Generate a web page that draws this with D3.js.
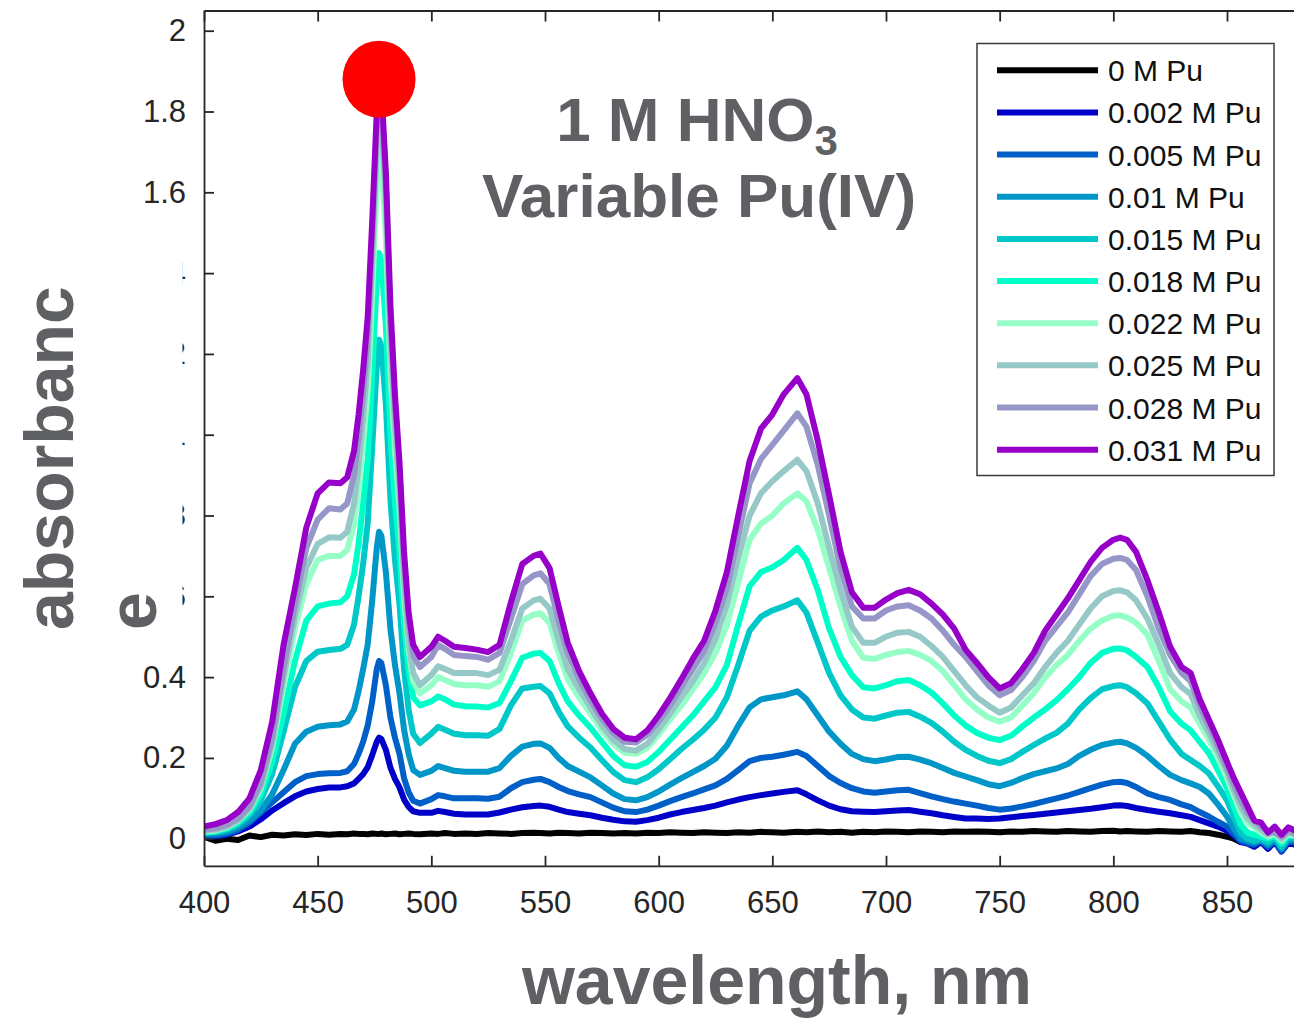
<!DOCTYPE html>
<html>
<head>
<meta charset="utf-8">
<script src="https://cdn.jsdelivr.net/npm/d3@7"></script>
<style>
  html, body { margin: 0; padding: 0; background: #fff; }
  svg { display: block; }
  text { font-family: "Liberation Sans", Arial, Helvetica, sans-serif; }
</style>
</head>
<body>
<svg id="chart" width="1294" height="1019"></svg>
<script>
// Wavelength grid (nm); finer sampling around the 476 nm Pu(IV) band
const wavelengths = [
  400,405,410,415,420,425,430,435,440,445,
  450,455,460,463,466,468,470,472,474,476,
  477,478,480,482,484,486,488,490,492,495,
  500,503,506,510,515,520,525,530,535,540,
  545,548,552,556,560,565,570,575,580,585,
  590,595,600,605,610,615,620,625,630,635,
  640,645,650,655,661,665,670,675,680,685,
  690,695,700,705,710,715,720,725,730,735,
  740,745,750,755,760,765,770,775,780,785,
  790,795,800,803,806,810,815,820,825,830,
  834,838,842,846,850,853,856,859,862,865,
  868,871,874,877,880
];

// Absorbance spectra, one array per Pu concentration
const pu000 = [
  .005,-.005,.000,-.003,.008,.004,.010,.008,.011,.009,
  .012,.010,.012,.011,.013,.012,.012,.011,.013,.012,
  .012,.013,.011,.012,.013,.011,.012,.013,.012,.011,
  .013,.012,.014,.012,.013,.012,.014,.013,.012,.014,
  .015,.014,.013,.015,.014,.013,.015,.014,.013,.014,
  .013,.015,.014,.016,.015,.014,.016,.015,.014,.016,
  .015,.017,.016,.015,.017,.016,.018,.016,.017,.015,
  .017,.016,.018,.017,.016,.018,.017,.016,.018,.017,
  .018,.017,.016,.018,.017,.019,.018,.017,.019,.018,
  .017,.019,.020,.018,.019,.018,.017,.019,.018,.017,
  .019,.016,.014,.010,.005,.000,-.008,-.005,-.012,-.006,
  -.018,-.006,-.025,-.008,-.012
];
const pu002 = [
  .005,.006,.010,.018,.030,.048,.070,.088,.105,.117,
  .123,.127,.127,.130,.137,.148,.160,.177,.207,.240,
  .250,.247,.220,.176,.148,.127,.097,.079,.068,.064,
  .064,.069,.066,.062,.060,.060,.060,.065,.072,.078,
  .081,.082,.079,.072,.066,.062,.058,.052,.047,.043,
  .042,.046,.052,.060,.066,.071,.076,.082,.090,.097,
  .103,.108,.112,.116,.120,.110,.095,.082,.073,.068,
  .067,.066,.068,.070,.071,.067,.063,.058,.054,.050,
  .050,.049,.050,.053,.056,.059,.062,.065,.068,.071,
  .074,.078,.082,.083,.081,.076,.071,.067,.063,.058,
  .054,.046,.038,.030,.020,.008,-.008,-.012,-.020,-.008,
  -.025,-.008,-.032,-.010,-.015
];
const pu005 = [
  .006,.008,.012,.022,.040,.065,.090,.115,.140,.155,
  .160,.162,.163,.167,.185,.210,.240,.280,.340,.420,
  .440,.435,.380,.300,.250,.210,.150,.115,.094,.087,
  .098,.108,.105,.100,.100,.100,.099,.104,.125,.140,
  .146,.148,.140,.128,.118,.110,.103,.090,.077,.068,
  .066,.072,.082,.093,.103,.112,.122,.132,.148,.170,
  .192,.200,.203,.208,.215,.205,.180,.155,.138,.125,
  .117,.114,.117,.120,.121,.113,.105,.098,.092,.087,
  .082,.076,.072,.075,.080,.086,.093,.100,.107,.116,
  .125,.134,.140,.141,.138,.128,.112,.103,.096,.085,
  .078,.066,.055,.042,.030,.012,-.005,-.010,-.015,-.005,
  -.020,-.005,-.030,-.005,-.010
];
const pu010 = [
  .012,.013,.017,.028,.045,.070,.110,.170,.235,.265,
  .277,.281,.283,.290,.320,.365,.420,.480,.590,.720,
  .760,.750,.660,.520,.430,.360,.270,.210,.170,.158,
  .168,.180,.175,.168,.166,.166,.166,.175,.205,.228,
  .235,.236,.225,.200,.180,.166,.152,.132,.112,.098,
  .095,.103,.117,.134,.150,.165,.180,.198,.230,.280,
  .325,.345,.350,.355,.365,.345,.305,.265,.235,.210,
  .197,.192,.196,.202,.203,.196,.187,.175,.163,.154,
  .145,.135,.130,.138,.150,.160,.167,.174,.185,.205,
  .220,.232,.238,.240,.236,.225,.205,.180,.158,.145,
  .137,.128,.112,.085,.055,.025,.000,-.005,-.010,-.003,
  -.015,.000,-.025,.000,-.005
];
const pu015 = [
  .014,.016,.022,.035,.058,.095,.160,.265,.375,.440,
  .463,.467,.470,.480,.530,.600,.680,.780,.970,1.170,
  1.235,1.220,1.075,.840,.690,.580,.420,.320,.260,.237,
  .260,.277,.270,.260,.256,.256,.255,.272,.330,.372,
  .376,.378,.360,.315,.278,.250,.226,.195,.165,.145,
  .140,.152,.172,.197,.222,.245,.270,.300,.350,.430,
  .515,.550,.565,.575,.590,.560,.485,.410,.355,.320,
  .300,.297,.305,.312,.314,.302,.287,.265,.240,.220,
  .205,.193,.187,.197,.215,.232,.248,.262,.285,.320,
  .348,.370,.378,.380,.375,.360,.335,.290,.245,.210,
  .195,.180,.162,.130,.095,.055,.015,.000,-.005,.000,
  -.010,.005,-.020,.005,.000
];
const pu018 = [
  .016,.018,.025,.040,.065,.110,.190,.310,.440,.540,
  .575,.582,.585,.600,.655,.730,.830,.940,1.150,1.380,
  1.450,1.430,1.270,1.000,.830,.710,.530,.420,.350,.330,
  .340,.352,.345,.332,.328,.327,.325,.336,.390,.448,
  .458,.460,.440,.385,.340,.305,.275,.240,.205,.182,
  .178,.190,.215,.245,.275,.305,.340,.375,.430,.530,
  .625,.660,.672,.690,.720,.690,.615,.520,.450,.405,
  .375,.372,.380,.390,.393,.380,.362,.335,.305,.280,
  .262,.250,.244,.255,.278,.300,.320,.343,.370,.400,
  .435,.460,.470,.471,.466,.450,.425,.375,.315,.285,
  .268,.240,.212,.170,.125,.080,.035,.015,.010,.005,
  .000,.008,-.012,.010,.005
];
const pu022 = [
  .018,.020,.028,.044,.072,.125,.225,.380,.520,.630,
  .690,.700,.700,.715,.780,.870,.980,1.110,1.350,1.620,
  1.700,1.680,1.490,1.160,.960,.820,.600,.470,.390,.360,
  .380,.400,.393,.383,.380,.380,.376,.390,.460,.540,
  .555,.558,.535,.460,.395,.350,.310,.268,.235,.213,
  .210,.225,.258,.295,.330,.370,.410,.460,.530,.635,
  .740,.780,.800,.830,.855,.835,.765,.670,.575,.490,
  .448,.445,.455,.462,.465,.455,.440,.415,.380,.345,
  .320,.300,.290,.300,.330,.360,.400,.430,.455,.490,
  .520,.540,.552,.553,.548,.535,.505,.440,.370,.340,
  .325,.285,.245,.200,.150,.108,.065,.040,.028,.015,
  .005,.012,-.005,.012,.008
];
const pu025 = [
  .020,.022,.030,.046,.075,.130,.235,.400,.550,.670,
  .730,.746,.745,.760,.830,.920,1.040,1.180,1.430,1.720,
  1.800,1.780,1.570,1.230,1.020,.860,.640,.490,.410,.380,
  .405,.427,.420,.410,.410,.410,.405,.418,.490,.570,
  .590,.594,.570,.490,.420,.370,.325,.280,.245,.222,
  .218,.235,.270,.310,.350,.390,.435,.495,.580,.695,
  .800,.855,.885,.910,.938,.910,.830,.720,.615,.525,
  .485,.485,.500,.510,.512,.500,.477,.450,.415,.380,
  .350,.330,.312,.325,.355,.385,.425,.460,.490,.530,
  .570,.600,.613,.615,.610,.590,.545,.480,.410,.375,
  .358,.305,.262,.215,.165,.120,.080,.050,.035,.022,
  .010,.018,.000,.015,.010
];
const pu028 = [
  .022,.026,.034,.050,.080,.140,.250,.420,.580,.720,
  .790,.818,.815,.830,.900,.990,1.105,1.240,1.490,1.770,
  1.850,1.830,1.620,1.280,1.070,.910,.680,.540,.455,.425,
  .450,.480,.470,.455,.452,.450,.443,.460,.545,.630,
  .652,.657,.630,.540,.460,.395,.343,.298,.262,.240,
  .238,.258,.290,.330,.375,.420,.465,.535,.620,.750,
  .880,.940,.975,1.010,1.053,1.020,.925,.800,.670,.575,
  .545,.545,.565,.575,.578,.565,.545,.515,.480,.450,
  .415,.380,.355,.368,.400,.440,.490,.525,.560,.605,
  .650,.680,.693,.695,.690,.665,.600,.520,.455,.410,
  .390,.330,.280,.230,.175,.135,.095,.065,.045,.030,
  .020,.015,.005,.020,.012
];
const pu031 = [
  .030,.036,.046,.066,.100,.170,.290,.480,.620,.770,
  .855,.882,.880,.895,.960,1.050,1.160,1.290,1.530,1.800,
  1.880,1.860,1.650,1.320,1.100,.930,.710,.560,.480,.450,
  .475,.500,.490,.475,.472,.468,.462,.480,.585,.680,
  .700,.706,.670,.575,.485,.415,.360,.310,.272,.250,
  .246,.268,.305,.348,.395,.445,.490,.565,.660,.800,
  .935,1.015,1.050,1.100,1.140,1.100,.985,.850,.710,.610,
  .572,.572,.592,.608,.616,.605,.582,.555,.520,.468,
  .435,.400,.372,.385,.420,.460,.515,.555,.595,.640,
  .685,.720,.740,.745,.740,.710,.640,.560,.475,.425,
  .410,.345,.295,.245,.190,.150,.115,.080,.045,.040,
  .015,.030,.010,.028,.020
];

const seriesLabels = ["0 M Pu","0.002 M Pu","0.005 M Pu","0.01 M Pu","0.015 M Pu",
                      "0.018 M Pu","0.022 M Pu","0.025 M Pu","0.028 M Pu","0.031 M Pu"];
const seriesColors = ["#000000","#0000c8","#0060c8","#0096c8","#00c8c8",
                      "#00ffc8","#96ffc8","#96c8c8","#9696c8","#9600c8"];
const seriesValues = [pu000,pu002,pu005,pu010,pu015,pu018,pu022,pu025,pu028,pu031];

const xTicks = [400,450,500,550,600,650,700,750,800,850];
const yTicks = [0,0.2,0.4,0.6,0.8,1,1.2,1.4,1.6,1.8,2];
const yTickLabels = ["0","0.2","0.4","0.6","0.8","1","1.2","1.4","1.6","1.8","2"];

// Highlighted band maximum of the most concentrated solution
const peakMarker = { wavelength: 477, absorbance: 1.88 };

const series = seriesLabels.map((label, i) => ({
  label,
  color: seriesColors[i],
  points: wavelengths.map((w, j) => [w, seriesValues[i][j]])
}));

const svg = d3.select("#chart");
const ink = "#262626";
const grey = "#5f6064";

const x = d3.scaleLinear().domain([400, 880]).range([204, 1295.2]);
const y = d3.scaleLinear().domain([-0.067, 2.05]).range([865.8, 10.5]);
const [x0, x1] = x.range();
const [yb, yt] = y.range();

svg.append("defs").append("clipPath").attr("id", "plotClip")
  .append("rect").attr("x", x0).attr("y", yt).attr("width", x1 - x0).attr("height", yb - yt);

// Spectra
const line = d3.line().x(d => x(d[0])).y(d => y(d[1]));
svg.append("g").attr("clip-path", "url(#plotClip)")
  .selectAll("path").data(series).join("path")
  .attr("d", d => line(d.points))
  .attr("fill", "none")
  .attr("stroke", d => d.color)
  .attr("stroke-width", 6)
  .attr("stroke-linejoin", "round")
  .attr("stroke-linecap", "round");

// Axes (box with inward ticks)
function styleAxis(g) {
  g.selectAll(".domain").attr("stroke", ink).attr("stroke-width", 1.8);
  g.selectAll(".tick line").attr("stroke", ink).attr("stroke-width", 1.8);
  g.selectAll(".tick text").attr("fill", ink).style("font-size", "31px")
    .style("font-family", '"Liberation Sans", Arial, sans-serif');
}
svg.append("g").attr("transform", `translate(0,${yb})`)
  .call(d3.axisBottom(x).tickValues(xTicks).tickSize(-10).tickSizeOuter(0)
        .tickPadding(25).tickFormat(d3.format("d")))
  .call(styleAxis);
svg.append("g").attr("transform", `translate(0,${yt})`)
  .call(d3.axisTop(x).tickValues(xTicks).tickSize(-11).tickSizeOuter(0).tickFormat(""))
  .call(styleAxis);
svg.append("g").attr("transform", `translate(${x0},0)`)
  .call(d3.axisLeft(y).tickValues(yTicks).tickSize(-10).tickSizeOuter(0)
        .tickPadding(18).tickFormat((d, i) => yTickLabels[i]))
  .call(styleAxis);

// Y-axis label sits on an opaque box
svg.append("rect").attr("x", 0).attr("y", 238).attr("width", 182.5).attr("height", 405)
  .attr("fill", "#ffffff");
const yLab = svg.append("g").attr("fill", grey)
  .style("font-weight", "bold").style("font-size", "68px");
yLab.append("text").attr("transform", "translate(73,630) rotate(-90)")
  .attr("text-anchor", "start").text("absorbanc");
yLab.append("text").attr("transform", "translate(156,630) rotate(-90)")
  .attr("text-anchor", "start").text("e");

// X-axis label
svg.append("text").attr("x", 777).attr("y", 1004).attr("text-anchor", "middle")
  .attr("fill", grey).style("font-weight", "bold").style("font-size", "68px")
  .text("wavelength, nm");

// Title block
const title = svg.append("g").attr("fill", grey).style("font-weight", "bold");
const t1 = title.append("text").attr("x", 697).attr("y", 141).attr("text-anchor", "middle")
  .style("font-size", "62px");
t1.append("tspan").text("1 M HNO");
t1.append("tspan").attr("dy", 14).style("font-size", "42px").text("3");
title.append("text").attr("x", 699).attr("y", 216.7).attr("text-anchor", "middle")
  .style("font-size", "62px").text("Variable Pu(IV)");

// Peak marker
svg.append("ellipse")
  .attr("cx", x(peakMarker.wavelength)).attr("cy", y(peakMarker.absorbance))
  .attr("rx", 36.5).attr("ry", 38.5).attr("fill", "#ff0000");

// Legend
const legend = svg.append("g");
legend.append("rect").attr("x", 977).attr("y", 43.5).attr("width", 297).attr("height", 432)
  .attr("fill", "#ffffff").attr("stroke", "#3a3a3a").attr("stroke-width", 1.5);
const rows = legend.selectAll("g.row").data(series).join("g").attr("class", "row")
  .attr("transform", (d, i) => `translate(0,${70.3 + i * 42.15})`);
rows.append("line").attr("x1", 997).attr("x2", 1098).attr("y1", 0).attr("y2", 0)
  .attr("stroke", d => d.color).attr("stroke-width", 6);
rows.append("text").attr("x", 1108).attr("y", 11).attr("fill", "#111")
  .style("font-size", "30px").text(d => d.label);
</script>
</body>
</html>
